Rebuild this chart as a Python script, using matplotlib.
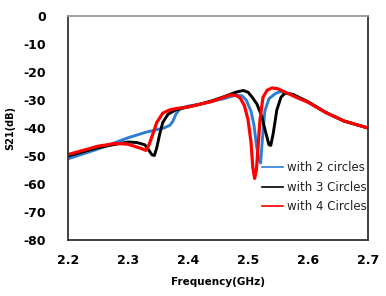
import matplotlib
matplotlib.use("Agg")
import matplotlib.pyplot as plt

plt.rcParams['font.family'] = ['DejaVu Sans']

f2 = [2.20, 2.25, 2.30, 2.33, 2.36, 2.37, 2.375, 2.38, 2.387, 2.40, 2.42, 2.44, 2.46, 2.48, 2.49,
      2.497, 2.505, 2.51, 2.514, 2.518, 2.521, 2.524, 2.528, 2.535, 2.545, 2.553, 2.57,
      2.60, 2.63, 2.66, 2.70]
s2 = [-51, -47.5, -43.5, -41.5, -40, -39, -37.5, -35, -33, -32.2, -31.5, -30.5, -29.5, -28.2, -28.5,
      -30, -34, -39, -46, -51.5, -52.5, -44, -34, -29.5, -27.8, -27, -27.8,
      -30.8, -34.5, -37.5, -40]

f3 = [2.20, 2.25, 2.30, 2.315, 2.328, 2.335, 2.34, 2.344, 2.348, 2.353, 2.358, 2.367, 2.38, 2.40,
      2.42, 2.44, 2.46, 2.48, 2.492, 2.50, 2.507, 2.515, 2.523, 2.53, 2.535, 2.538, 2.542,
      2.548, 2.555, 2.562, 2.575, 2.60, 2.63, 2.66, 2.70]
s3 = [-50, -47, -45, -45.2, -46, -48, -49.6, -49.8, -47, -42, -38, -35, -33.5, -32.5,
      -31.5, -30.3, -28.8, -27.2, -26.6, -27.2, -29, -31.5, -36, -42, -46, -46.2, -42,
      -33.6, -29, -27.5, -28, -30.6, -34.5, -37.5, -40]

f4 = [2.20, 2.25, 2.28, 2.30, 2.31, 2.322, 2.33, 2.335, 2.34, 2.348, 2.358, 2.37, 2.382,
      2.40, 2.42, 2.44, 2.46, 2.47, 2.48, 2.487, 2.494, 2.50, 2.505, 2.508, 2.511, 2.514,
      2.517, 2.52, 2.525, 2.532, 2.54, 2.55, 2.565, 2.58, 2.60, 2.63, 2.66, 2.70]
s4 = [-49.5, -46.5, -45.5, -45.8, -46.5, -47.3, -48, -46, -43, -38, -34.7, -33.5, -33,
      -32.5, -31.5, -30.5, -29, -28.2, -28.4, -29.3, -32, -37, -45, -54, -58, -55,
      -46, -37, -29, -26.5, -25.7, -26, -27.5, -29, -30.8, -34.5, -37.5, -40]

labels = ['with 2 circles', 'with 3 Circles', 'with 4 Circles']
xticks = [2.2, 2.3, 2.4, 2.5, 2.6, 2.7]
yticks = [0, -10, -20, -30, -40, -50, -60, -70, -80]

fig = plt.figure(figsize=(3.86, 2.96), dpi=100)
ax = fig.add_axes([68/386, 1 - 240/296, 300/386, 224/296])

ax.plot(f2, s2, color='#2a7fd4', lw=2.1, label=labels[0], solid_joinstyle='round')
ax.plot(f3, s3, color='black', lw=2.1, label=labels[1], solid_joinstyle='round')
ax.plot(f4, s4, color='#ff0000', lw=2.3, label=labels[2], solid_joinstyle='round')

ax.set_xlim(2.2, 2.7)
ax.set_ylim(-80, 0)
ax.set_xticks(xticks)
ax.set_xticklabels([f'{t:.1f}' for t in xticks], fontweight='bold', fontsize=9)
ax.set_yticks(yticks)
ax.set_yticklabels([str(t) for t in yticks], fontweight='bold', fontsize=9)
ax.tick_params(length=0)
ax.tick_params(axis='x', pad=10)
ax.tick_params(axis='y', pad=16)
ax.set_xlabel('Frequency(GHz)', fontweight='bold', fontsize=7.5, labelpad=7)
ax.set_ylabel('S21(dB)', fontweight='bold', fontsize=7, labelpad=6)

for side in ['left', 'bottom', 'right']:
    ax.spines[side].set_color('#333333')
    ax.spines[side].set_linewidth(1.3)
ax.spines['top'].set_color('#999999')
ax.spines['top'].set_linewidth(1.3)

leg = ax.legend(loc='upper left', bbox_to_anchor=(0.647, 0.352), frameon=False,
                fontsize=8.5, handlelength=1.8, handletextpad=0.35, labelspacing=0.55,
                borderaxespad=0, borderpad=0, labelcolor='#222222')
for line in leg.get_lines():
    line.set_linewidth(1.2)

fig.savefig('out.png', dpi=100)
